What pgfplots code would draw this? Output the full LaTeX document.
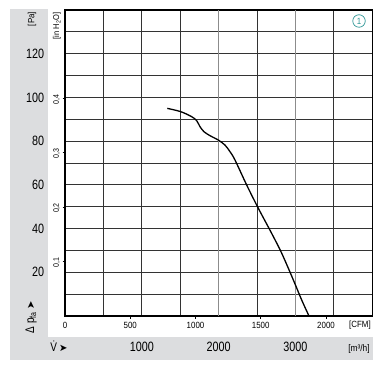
\documentclass[border=0pt]{standalone}
\usepackage{pgfplots}
\pgfplotsset{compat=1.18}
\usepackage{fontspec}
\setmainfont{Liberation Sans}
\newfontfamily\condf{Liberation Sans}[FakeStretch=0.8]
\newfontfamily\smf{Liberation Sans}[FakeStretch=0.88]
\newfontfamily\symf{DejaVu Sans}
\definecolor{bggray}{RGB}{220,221,223}
\definecolor{tealone}{RGB}{45,150,150}
\begin{document}
\begin{tikzpicture}
\path[use as bounding box] (-65pt,-61pt) rectangle (322pt,316pt);
\fill[bggray] (-55pt,-44pt) rectangle (308pt,307pt);
\fill[white] (-17pt,-21pt) rectangle (308pt,307pt);
\begin{axis}[name=ax, scale only axis, width=307.2pt, height=306pt,
  xmin=0, xmax=4000, ymin=0, ymax=140,
  xtick={500,1000,1500,2500,3500}, ytick={10,20,...,130},
  xticklabels={}, yticklabels={},
  major tick length=0pt, grid=major,
  major grid style={draw=black!80, line width=0.9pt},
  extra x ticks={2000,3000}, extra x tick labels={},
  extra x tick style={grid=major, major grid style={draw=black!45, line width=1.3pt}},
  axis line style={line width=1.2pt}]
\addplot[black, line width=1.3pt, smooth, tension=0.5] coordinates {
(1332,95.0) (1506,93.5) (1649,91.2) (1714,89.4) (1758,86.6) (1810,84.3)
(1888,82.5) (1996,80.5) (2083,78.2) (2148,75.2) (2213,71.4) (2366,59.9)
(2517,49.3) (2691,37.8) (2822,28.7) (2973,16.5) (3082,7.3) (3177,0)
};
\end{axis}
% Pa labels
\foreach \v/\y in {20/43.7,40/87.4,60/131.1,80/174.9,100/218.6,120/262.3}
  \node[anchor=east, inner sep=0pt, font=\condf\fontsize{13.5}{14}\selectfont] at (-20.7pt,\y pt) {\v};
% in H2O ticks and labels
\foreach \v/\y in {{0,1}/54.45,{0,2}/108.9,{0,3}/163.3,{0,4}/217.8}{
  \draw[line width=0.6pt] (-2.5pt,\y pt) -- (0pt,\y pt);
  \node[rotate=90, inner sep=0pt, font=\smf\fontsize{8}{9}\selectfont] at (-8.3pt,\y pt-1pt) {\v};
}
\node[rotate=90, inner sep=0pt, font=\smf\fontsize{8.5}{9}\selectfont] at (-8pt,290pt) {[in H\textsubscript{2}O]};
\node[rotate=90, inner sep=0pt, font=\smf\fontsize{9}{10}\selectfont] at (-33pt,297pt) {[Pa]};
\node[rotate=90, inner sep=0pt, font=\condf\fontsize{12.5}{13}\selectfont] at (-34pt,-0.5pt) {$\!$Δ p\textsubscript{fa}\,{\symf\fontsize{10}{11}\selectfont ➤}};
% CFM ticks and labels
\foreach \v/\x in {500/65.24,1000/130.5,1500/195.7,2000/261.0}
  \draw[line width=0.6pt] (\x pt,0pt) -- (\x pt,-3pt);
\foreach \v/\x in {0/0,500/65.24,1000/130.5,1500/195.7,2000/261.0}
  \node[inner sep=0pt, font=\smf\fontsize{9}{10}\selectfont] at (\x pt,-9.5pt) {\v};
\node[inner sep=0pt, font=\smf\fontsize{9}{10}\selectfont] at (295pt,-9pt) {[CFM]};
% m3/h labels
\foreach \v/\x in {1000/76.8,2000/153.6,3000/230.4}
  \node[inner sep=0pt, font=\condf\fontsize{13.5}{14}\selectfont] at (\x pt,-30.7pt) {\v};
\node[inner sep=0pt, font=\smf\fontsize{9.5}{10}\selectfont] at (294pt,-33pt) {[m³/h]};
\node[inner sep=0pt, font=\condf\fontsize{12.5}{13}\selectfont] at (-6pt,-30pt) {\.{V}\,{\symf\fontsize{10}{11}\selectfont ➤}};
% circled 1
\node[circle, draw=tealone, line width=0.7pt, inner sep=0pt, minimum size=12.5pt, text=tealone, font=\smf\fontsize{9}{10}\selectfont] at (294pt,295pt) {1};
\end{tikzpicture}
\end{document}
